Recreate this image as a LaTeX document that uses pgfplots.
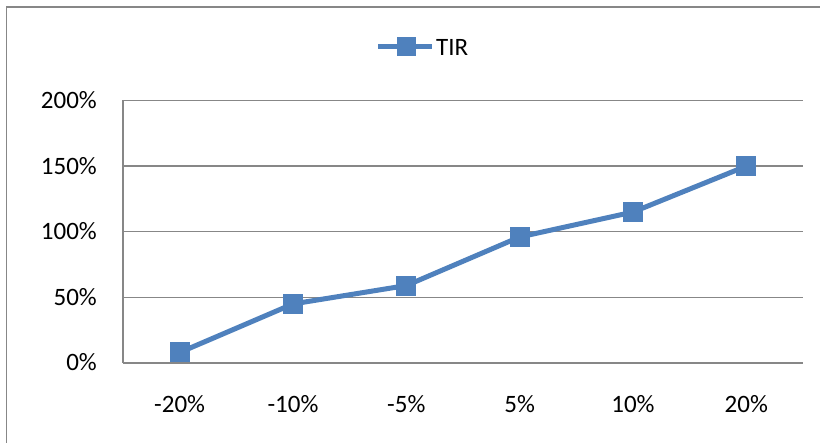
\documentclass[border=0pt]{standalone}
\usepackage{pgfplots}
\pgfplotsset{compat=1.18}
\usepackage{fontspec}
\setmainfont{Carlito}
\definecolor{tirblue}{HTML}{4F81BD}
\definecolor{gridgray}{HTML}{878787}

\begin{document}
\begin{tikzpicture}
  % page is 820pt x 443pt, so 1pt = 1px
  \useasboundingbox (0pt,0pt) rectangle (820pt,443pt);
  % outer chart frame (runs off at right and bottom)
  \draw[gridgray, line width=1.6pt] (6.5pt,0pt) -- (6.5pt,436pt) -- (820pt,436pt);

  \begin{axis}[
      at={(123pt,80pt)}, anchor=south west,
      scale only axis,
      width=680pt, height=262.5pt,
      xmin=-0.5, xmax=5.5,
      ymin=0, ymax=200,
      xtick={0,1,2,3,4,5},
      xticklabels={-20\%,-10\%,-5\%,5\%,10\%,20\%},
      ytick={0,50,100,150,200},
      yticklabels={0\%,50\%,100\%,150\%,200\%},
      major tick length=0pt,
      ymajorgrids,
      grid style={gridgray, line width=1.4pt},
      axis x line*=bottom,
      axis y line*=left,
      axis line style={gridgray, line width=1.4pt, -},
      tick label style={font=\fontsize{25}{27}\selectfont, inner sep=0pt},
      xticklabel style={anchor=base, yshift=-50pt},
      yticklabel style={anchor=base east, xshift=-26pt, yshift=-8pt},
      clip=false,
    ]
    \addplot[tirblue, line width=5pt, mark=square*,
             mark size=9.5pt, mark options={solid, fill=tirblue, line width=0pt}]
      coordinates {(0,8) (1,45) (2,59) (3,96) (4,115) (5,150)};
  \end{axis}

  % legend
  \draw[tirblue, line width=5pt] (378pt,396pt) -- (432pt,396pt);
  \fill[tirblue] (396.5pt,386.5pt) rectangle (415.5pt,405.5pt);
  \node[anchor=west, inner sep=0pt, font=\fontsize{25}{27}\selectfont] at (436pt,396pt) {TIR};
\end{tikzpicture}
\end{document}
